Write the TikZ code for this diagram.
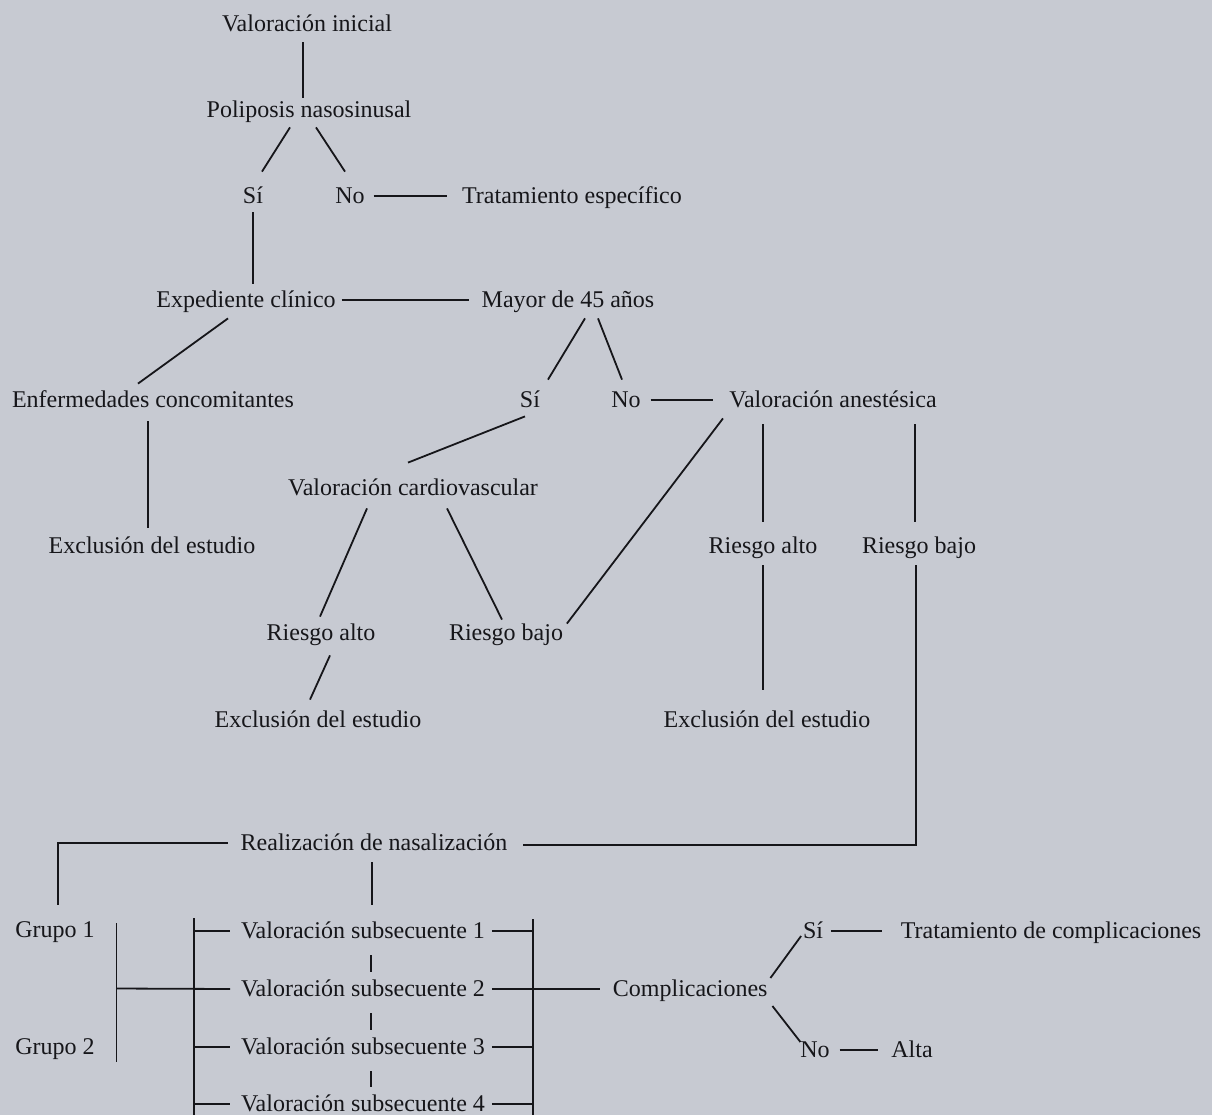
\documentclass[tikz,border=0pt]{standalone}
\usepackage{fontspec}
\setmainfont{Liberation Serif}
\usetikzlibrary{calc}
\definecolor{scan}{RGB}{199,202,210}
\definecolor{ink}{RGB}{22,22,26}

\begin{document}
\begin{tikzpicture}[x=1pt, y=-1pt, color=ink, line width=1.8pt,
    every node/.style={font=\fontsize{24}{28}\selectfont, inner sep=0pt, text height=18pt, text depth=3pt}]
  \fill[scan] (0,0) rectangle (1212,1115);
  % upper part
  \node (vi) at (307,24) {Valoración inicial};
  \node (pn) at (309,110) {Poliposis nasosinusal};
  \node (si1) at (253,196) {Sí};
  \node (no1) at (350,196) {No};
  \node (te) at (572,196) {Tratamiento específico};
  \node (ec) at (246,300) {Expediente clínico};
  \node (m45) at (568,300) {Mayor de 45 años};
  \node (enf) at (153,400) {Enfermedades concomitantes};
  \node (si2) at (530,400) {Sí};
  \node (no2) at (626,400) {No};
  \node (va) at (833,400) {Valoración anestésica};
  \node (ex1) at (152,546) {Exclusión del estudio};
  \node (vc) at (413,488) {Valoración cardiovascular};
  \node (ra1) at (321,633) {Riesgo alto};
  \node (rb1) at (506,633) {Riesgo bajo};
  \node (ex2) at (318,720) {Exclusión del estudio};
  \node (ra2) at (763,546) {Riesgo alto};
  \node (rb2) at (919,546) {Riesgo bajo};
  \node (ex3) at (767,720) {Exclusión del estudio};
  % lower part
  \node (rn) at (374,843) {Realización de nasalización};
  \node (g1) at (55,930) {Grupo 1};
  \node (g2) at (55,1047) {Grupo 2};
  \foreach \i/\y in {1/931,2/989,3/1047,4/1104}
    \node (vs\i) at (363,\y) {Valoración subsecuente \i};
  \node[anchor=west] (comp) at (612,989) {Complicaciones};
  \node (si3) at (813,931) {Sí};
  \node[anchor=west] (tc) at (900,931) {Tratamiento de complicaciones};
  \node (no3) at (815,1050) {No};
  \node (alta) at (912,1050) {Alta};

  \draw ($(vi.south)+(-4,7)$) -- ($(pn.north)+(-6,-1)$);
  \draw ($(pn.south)+(-19,6)$) -- ($(si1.north)+(9,-13)$);
  \draw ($(pn.south)+(7,6)$) -- ($(no1.north)+(-5,-13)$);
  \draw[shorten <=8pt, shorten >=14pt] (no1.east) -- (te.west);
  \draw ($(si1.south)+(0,5)$) -- ($(ec.north)+(7,-5)$);
  \draw[shorten <=5pt, shorten >=12pt] (ec.east) -- (m45.west);
  \draw ($(ec.south)+(-18,7)$) -- ($(enf.north)+(-15,-5)$);
  \draw ($(m45.south)+(17,7)$) -- ($(si2.north)+(18,-9)$);
  \draw ($(m45.south)+(30,7)$) -- ($(no2.north)+(-4,-9)$);
  \draw[shorten <=9pt, shorten >=15pt] (no2.east) -- (va.west);
  \draw ($(enf.south)+(-5,10)$) -- ($(ex1.north)+(-4,-7)$);
  \draw ($(si2.south)+(-5,5)$) -- ($(vc.north)+(-5,-14)$);
  \draw ($(vc.south)+(-46,9)$) -- ($(ra1.north)+(-1,-5)$);
  \draw ($(vc.south)+(34,9)$) -- ($(rb1.north)+(-4,-2)$);
  \draw ($(va.south)+(-110,7)$) -- ($(rb1.north east)+(3,2)$);
  \draw ($(va.south)+(-70,13)$) -- ($(ra2.north)+(0,-13)$);
  \draw ($(va.south)+(82,13)$) -- ($(rb2.north)+(-4,-13)$);
  \draw ($(ra1.south)+(9,11)$) -- ($(ex2.north)+(-8,-9)$);
  \draw ($(ra2.south)+(0,8)$) -- ($(ex3.north)+(-4,-19)$);
  \draw ($(rb2.south)+(-3,8)$) |- ($(rn.east)+(15,2)$);
  \draw ($(rn.west)+(-12,0)$) -| ($(g1.north)+(3,-14)$);
  \draw ($(rn.south)+(-2,8)$) -- ($(vs1.north)+(9,-15)$);

  % brackets of the groups and the follow-ups
  \draw ($(g1.east)+(21,-7)$) -- ($(g2.east)+(21,15)$);
  \coordinate (gmid) at ($(g1.east)!0.5!(g2.east)+(21,0)$);
  \draw (gmid) -- ($(vs2.west)+(-10,0)$);
  \draw ($(vs1.west)+(-46,-13)$) -- ($(vs4.west)+(-46,11)$);
  \draw ($(vs1.east)+(47,-12)$) -- ($(vs4.east)+(47,11)$);
  \foreach \i in {1,...,4} {
    \draw ($(vs\i.west)+(-46,0)$) -- ($(vs\i.west)+(-10,0)$);
    \draw ($(vs\i.east)+(6,0)$) -- ($(vs\i.east)+(47,0)$);
  }
  \foreach \a/\b in {1/2,2/3,3/4}
    \draw ($(vs\a.south)+(8,13)$) -- ($(vs\b.north)+(8,-6)$);
  \draw ($(vs2.east)+(47,0)$) -- ($(comp.west)+(-12,0)$);

  \draw ($(comp.east)+(2,-11)$) -- ($(si3.west)+(-1,5)$);
  \draw ($(comp.east)+(4,17)$) -- ($(no3.west)+(1,-8)$);
  \draw[shorten <=7pt, shorten >=18pt] (si3.east) -- (tc.west);
  \draw[shorten <=9pt, shorten >=12pt] (no3.east) -- (alta.west);
\end{tikzpicture}
\end{document}
